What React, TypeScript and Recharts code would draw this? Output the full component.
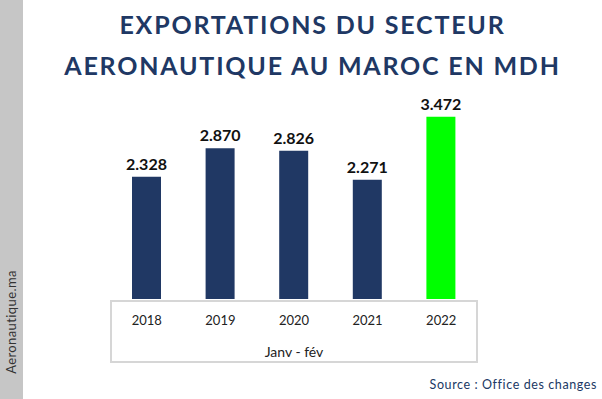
import React from "react";
import { BarChart, Bar, XAxis, YAxis, Cell, LabelList } from "recharts";

const years = ["2018", "2019", "2020", "2021", "2022"];
const exports = [2328, 2870, 2826, 2271, 3472];
const barColors = ["#203864", "#203864", "#203864", "#203864", "#00ff00"];

const data = years.map((year, i) => ({ year, value: exports[i] }));

const navy = "#203864";

const fmt = (v: number) => {
  const s = String(v);
  return s.slice(0, s.length - 3) + "." + s.slice(-3);
};

const YearTick = (props: any) => {
  const { x, y, payload } = props;
  return (
    <text x={x} y={y + 18} textAnchor="middle" fill="#222" fontSize={13} fontFamily="Lato">
      {payload.value}
    </text>
  );
};

export default function App() {
  return (
    <div style={{ position: "absolute", left: 0, top: 0, width: 602, height: 399, background: "#fff", overflow: "hidden" }}>
      <div style={{ position: "absolute", left: 0, top: 0, width: 23, height: 399, background: "#c6c6c6" }} />
      <div
        style={{
          position: "absolute",
          left: 11,
          top: 322,
          transform: "translate(-50%, -50%) rotate(-90deg)",
          whiteSpace: "nowrap",
          fontFamily: "Lato",
          fontSize: 13,
          letterSpacing: 0.4,
          color: "#333",
        }}
      >
        Aeronautique.ma
      </div>
      <div
        style={{
          position: "absolute",
          left: 23,
          width: 579,
          top: 4,
          textAlign: "center",
          fontFamily: "Lato",
          fontWeight: 700,
          fontSize: 25,
          letterSpacing: 1.8,
          lineHeight: "41px",
          color: navy,
        }}
      >
        EXPORTATIONS DU SECTEUR
        <br />
        AERONAUTIQUE AU MAROC EN MDH
      </div>
      <div
        style={{
          position: "absolute",
          left: 110,
          top: 300,
          width: 364,
          height: 59,
          border: "2px solid #d6d6d6",
        }}
      />
      <div style={{ position: "absolute", left: 0, top: 0 }}>
        <BarChart width={602} height={399} data={data} margin={{ top: 89, right: 124, left: 110, bottom: 70 }}>
          <YAxis hide domain={[0, 4000]} />
          <XAxis dataKey="year" axisLine={false} tickLine={false} height={30} tick={<YearTick />} interval={0} />
          <Bar dataKey="value" barSize={29} isAnimationActive={false}>
            {data.map((d, i) => (
              <Cell key={d.year} fill={barColors[i]} />
            ))}
            <LabelList
              dataKey="value"
              position="top"
              offset={7}
              formatter={(v: any) => fmt(Number(v))}
              style={{ fontFamily: "Lato", fontWeight: 700, fontSize: 16, fill: "#111" }}
            />
          </Bar>
        </BarChart>
      </div>
      <div
        style={{
          position: "absolute",
          left: 110,
          width: 368,
          top: 343,
          textAlign: "center",
          fontFamily: "Lato",
          fontSize: 14,
          color: "#222",
        }}
      >
        Janv - fév
      </div>
      <div
        style={{
          position: "absolute",
          right: 5,
          top: 377,
          fontFamily: "Lato",
          fontSize: 12.5,
          letterSpacing: 0.6,
          color: navy,
        }}
      >
        Source : Office des changes
      </div>
    </div>
  );
}
